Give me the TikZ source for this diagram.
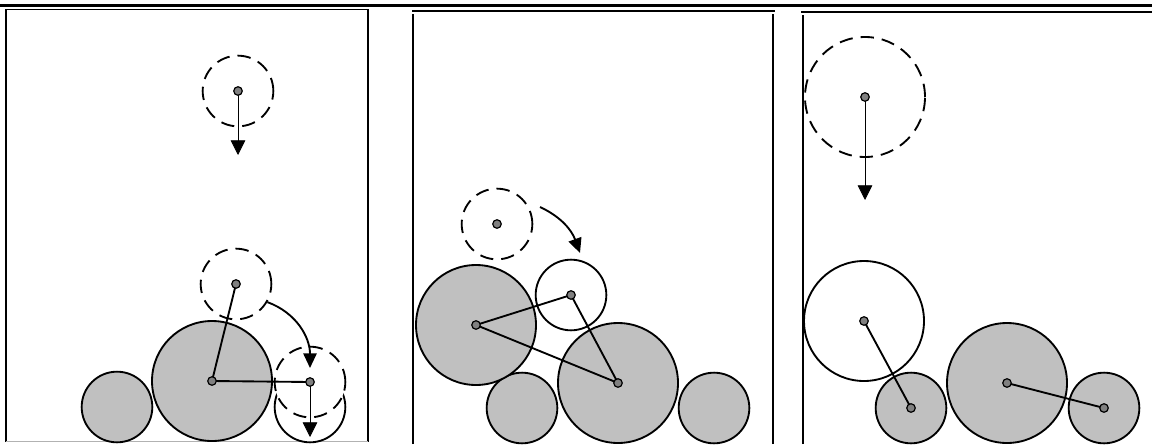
\documentclass[tikz,border=0pt]{standalone}
\usepackage{tikz}
\usetikzlibrary{arrows.meta,positioning}
\definecolor{ballgray}{RGB}{192,192,192}
\definecolor{dotgray}{RGB}{128,128,128}

\begin{document}
\begin{tikzpicture}[x=0.75pt,y=0.75pt,
  ball/.style={circle,draw,line width=1.4pt,inner sep=0pt,fill=ballgray},
  free/.style={circle,draw,line width=1.4pt,inner sep=0pt,fill=white},
  ghost/.style={circle,draw,line width=1.4pt,inner sep=0pt,fill=white,dash pattern=on 10pt off 6pt},
  big/.style={minimum size=90pt},
  small/.style={minimum size=53pt},
  link/.style={line width=1.4pt},
  fall/.style={line width=0.6pt,-{Triangle[length=11pt,width=11pt]}},
  roll/.style={line width=1.4pt,-{Triangle[length=11pt,width=10pt]}},
  centre/.style={draw,line width=0.9pt,fill=dotgray}]

\useasboundingbox (0,0) rectangle (1152,444);

%Frames
\draw[line width=2pt] (0,438.7) -- (1152,438.7);
\draw[line width=1.2pt] (6,2) -- (6,434.5) -- (368,434.5) -- (368,2);
\draw[gray!60,line width=1pt] (6,2.3) -- (368,2.3);
\draw[line width=1.2pt] (412,433) -- (775,433);
\draw[line width=1.2pt] (413,0) -- (413,430);
\draw[line width=1.2pt] (773,0) -- (773,430);
\draw[line width=1.2pt] (801,432) -- (1152,432);
\draw[line width=1.2pt] (803,0) -- (803,429);

% Panel 1
\node[ball,small] (p1small) at (117,37) {};
\node[ball,big] (p1big) at (212,63) {};
\node[free,small] (p1land) at (310,37) {};
\node[ghost,small] (p1drop) at (310,62) {};
\node[ghost,small] (p1up) at (236,160) {};
\node[ghost,small] (p1top) at (238,353) {};
\coordinate (p1toptip) at (238,289);
\coordinate (p1droptip) at (310,7);
\coordinate (p1rolltip) at (310,76);

\draw[link] (p1big.center) -- (p1up.center);
\draw[link] (p1big.center) -- (p1drop.center);
\draw[fall] (p1top.center) -- (p1toptip);
\draw[fall] (p1drop.center) -- (p1droptip);
\draw[roll] (p1up.-30) to[out=-20,in=90] (p1rolltip);

% Panel 2
\node[ball,small] (p2s1) at (522,36) {};
\node[ball,small] (p2s2) at (714,36) {};
\node[ball,big] (p2left) at (476,119) {};
\node[ball,big] (p2right) at (618,61) {};
\node[free,small] (p2free) at (571,149) {};
\node[ghost,small] (p2dash) at (497,220) {};
\coordinate (p2rollstart) at (540,237);
\coordinate (p2rolltip) at (580,191);

\draw[link] (p2left.center) -- (p2free.center) -- (p2right.center) -- (p2left.center);
\draw[roll] (p2rollstart) to[out=-25,in=110] (p2rolltip);

% Panel 3
\node[ghost,big] (p3drop) at (865,347) {};
\node[free,big] (p3free) at (864,123) {};
\node[ball,small] (p3s1) at (911,36) {};
\node[ball,big] (p3big) at (1007,61) {};
\node[ball,small] (p3s2) at (1104,36) {};
\coordinate (p3droptip) at (865,244);

\draw[fall] (p3drop.center) -- (p3droptip);
\draw[link] (p3free.center) -- (p3s1.center);
\draw[link] (p3big.center) -- (p3s2.center);

% centre dots
\foreach \n in {p1big,p1up,p1top,p1drop,p2left,p2right,p2free,p2dash,p3drop,p3free,p3s1,p3big,p3s2}
  \draw[centre] (\n.center) circle (3.2pt);

\end{tikzpicture}
\end{document}
